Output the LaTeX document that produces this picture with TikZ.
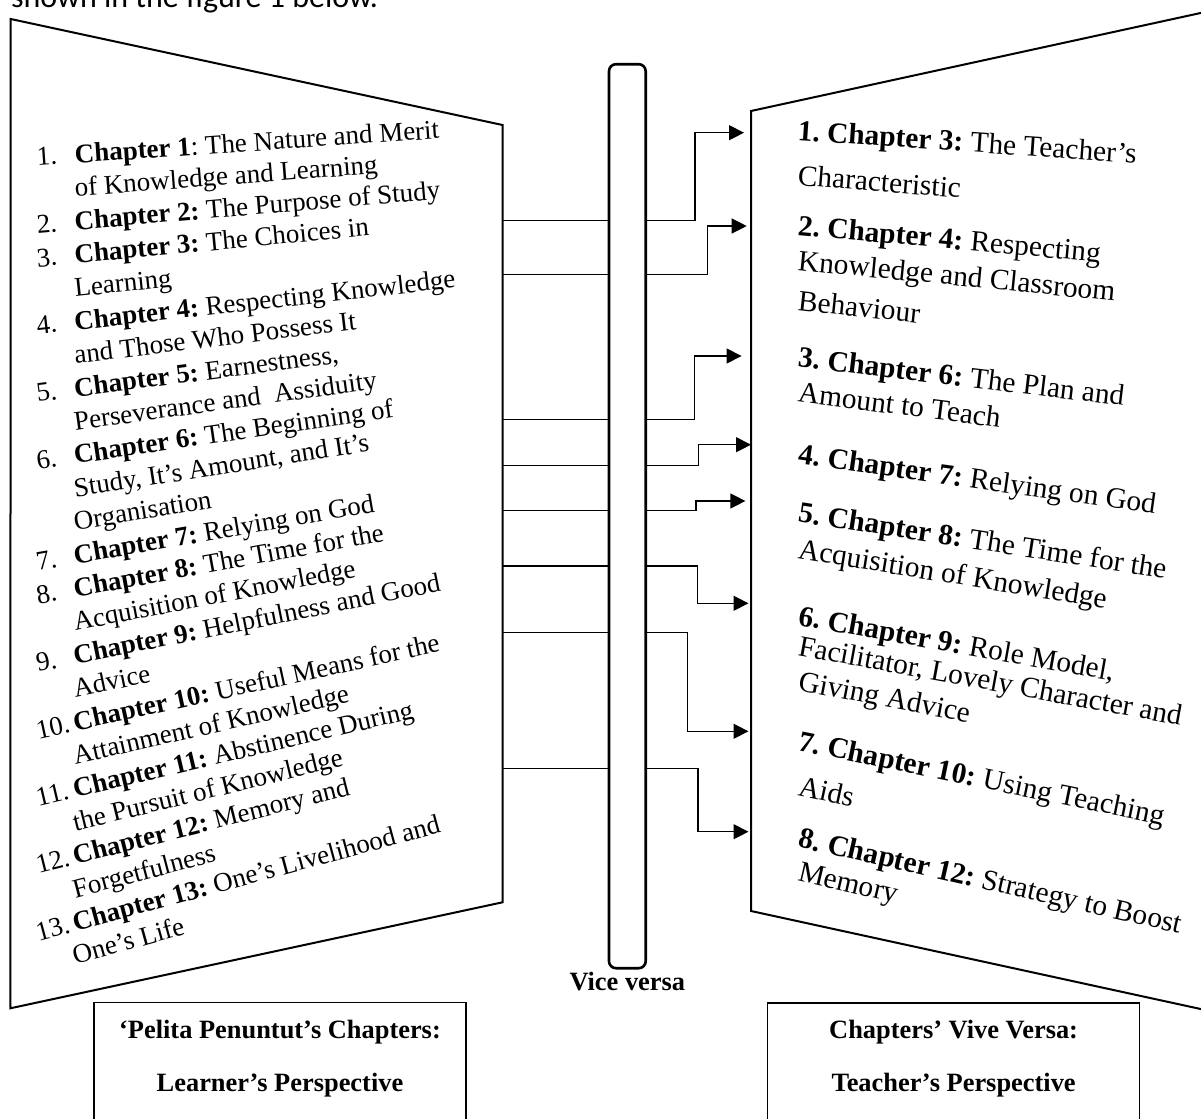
\documentclass[tikz,border=0pt]{standalone}
\usepackage{fontspec}
\setmainfont{Liberation Serif}
\newfontfamily\bodyfont{Carlito}
\usepackage{tikz}
\usetikzlibrary{arrows.meta}
\usetikzlibrary{calc}
\usetikzlibrary{positioning}
\newcommand{\chp}[1]{\textbf{Chapter #1}}
\newcommand{\itm}[1]{\llap{\makebox[19pt][l]{#1}}}
\frenchspacing

\begin{document}
\begin{tikzpicture}[x=0.5pt, y=-0.5pt,
    page/.style={line width=1pt, line join=miter},
    link/.style={line width=0.6pt},
    arr/.style={link, -{Triangle[length=7.5pt, width=7.5pt]}},
    lefttxt/.style={anchor=base west, inner sep=0pt, font=\fontsize{13.5}{16}\selectfont},
    righttxt/.style={anchor=base west, inner sep=0pt, font=\fontsize{14.7}{18}\selectfont},
    headtxt/.style={anchor=base, inner sep=0pt, font=\fontsize{13.2}{16}\selectfont\bfseries},
    labelbox/.style={draw, line width=0.6pt, minimum width=186pt, minimum height=75pt, anchor=north, inner sep=0pt}] % Learner and teacher chapters

      \useasboundingbox (0,0) rectangle (1201,1119);
      \clip (0,0) rectangle (1201,1119);

      \node [anchor=base west, inner sep=0pt, font=\bodyfont\fontsize{16}{19}\selectfont] (above) at (10.7,7) {shown in the figure 1 below.};

      % the two pages
      \draw [page] (10.7,19) -- (502.5,125) -- (502.5,902.3) -- (10.3,1008.3) -- cycle;
      \draw [page] (1230,6.6) -- (751,111) -- (751,911) -- (1230,1015.4);

      \node [draw, line width=1.3pt, rounded corners=3.5pt, minimum width=18.35pt, minimum height=452pt, inner sep=0pt] (bar) at (627.35,516.2) {};
      \node [headtxt] (vv) at (627.35,990) {Vice versa};

      \foreach \k/\ly/\kx/\ty/\tx in {1/220.7/695/132.7/744, 2/274.3/707.7/226/746.7, 3/419.5/694.1/356/741.6, 4/465.7/698.4/444.7/751, 5/510.3/696/501/745.4, 6/566/697.6/603.3/748.5, 7/632.5/687.3/731.3/748.5, 8/768.7/698/831.7/748.5} {
        \coordinate (from\k) at (502.5,\ly);
        \coordinate (to\k) at (\tx,\ty);
        \draw [link] (from\k) -- (from\k -| bar.west);
        \draw [arr] (from\k -| bar.east) -| (\kx,\ty) -- (to\k);
      }

      \foreach \i/\txt in {1/{\itm{1.}\chp{1}: The Nature and Merit},
          2/{of Knowledge and Learning},
          3/{\itm{2.}\chp{2:} The Purpose of Study},
          4/{\itm{3.}\chp{3:} The Choices in},
          5/{Learning},
          6/{\itm{4.}\chp{4:} Respecting Knowledge},
          7/{and Those Who Possess It},
          8/{\itm{5.}\chp{5:} Earnestness,},
          9/{Perseverance and\ \ Assiduity},
          10/{\itm{6.}\chp{6:} The Beginning of},
          11/{Study, It’s Amount, and It’s},
          12/{Organisation},
          13/{\itm{7.}\chp{7:} Relying on God},
          14/{\itm{8.}\chp{8:} The Time for the},
          15/{Acquisition of Knowledge},
          16/{\itm{9.}\chp{9:} Helpfulness and Good},
          17/{Advice},
          18/{\itm{10.}\chp{10:} Useful Means for the},
          19/{Attainment of Knowledge},
          20/{\itm{11.}\chp{11:} Abstinence During},
          21/{the Pursuit of Knowledge},
          22/{\itm{12.}\chp{12:} Memory and},
          23/{Forgetfulness},
          24/{\itm{13.}\chp{13:} One’s Livelihood and},
          25/{One’s Life}} {
        \pgfmathsetmacro\yb{163.3+(\i-1)*33.4}
        \node [lefttxt, rotate={atan((\yb+96)/3798)}] (left\i) at (75,\yb) {\txt};
      }

      \foreach \yb/\txt [count=\k] in {140/{\textbf{1. Chapter 3:} The Teacher’s},
          185/{Characteristic},
          235/{\textbf{2. Chapter 4:} Respecting},
          270/{Knowledge and Classroom},
          310/{Behaviour},
          366.7/{\textbf{3. Chapter 6:} The Plan and},
          401.7/{Amount to Teach},
          463.3/{\textbf{4. Chapter 7:} Relying on God},
          521.7/{\textbf{5. Chapter 8:} The Time for the},
          558.3/{Acquisition of Knowledge},
          625/{\textbf{6. Chapter 9:} Role Model,},
          655/{Facilitator, Lovely Character and},
          690/{Giving Advice},
          750/{\textbf{7. Chapter 10:} Using Teaching},
          795/{Aids},
          846.7/{\textbf{8. Chapter 12:} Strategy to Boost},
          880/{Memory}} {
        \node [righttxt, rotate={-atan((\yb+168.6)/4473)}] (right\k) at (797,\yb) {\txt};
      }

      \node [labelbox] (lbox) at (280,1001.7) {};
      \node [headtxt] (ltop) at (lbox.north |- 0,1038.3) {‘Pelita Penuntut’s Chapters:};
      \node [headtxt] (lbot) at (lbox.north |- 0,1091.7) {Learner’s Perspective};
      \node [labelbox] (rbox) at (953.6,1002.3) {};
      \node [headtxt] (rtop) at (rbox.north |- 0,1038.3) {Chapters’ Vive Versa:};
      \node [headtxt] (rbot) at (rbox.north |- 0,1091.7) {Teacher’s Perspective};

    \end{tikzpicture}
\end{document}
